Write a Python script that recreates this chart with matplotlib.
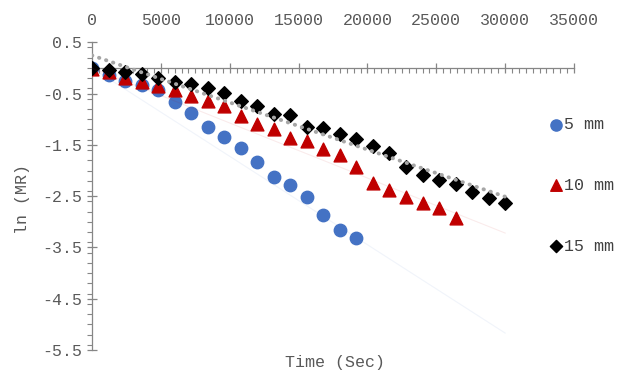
import numpy as np
import matplotlib
matplotlib.use("Agg")
import matplotlib.pyplot as plt
from matplotlib.ticker import MultipleLocator

# time (s), ln(MR)
t5 = [0, 1200, 2400, 3600, 4800, 6000, 7200, 8400, 9600, 10800, 12000,
      13200, 14400, 15600, 16800, 18000, 19200]
mr5 = [0.0, -0.14, -0.25, -0.33, -0.43, -0.66, -0.88, -1.16, -1.35, -1.56,
       -1.84, -2.12, -2.29, -2.51, -2.87, -3.16, -3.31]

t10 = [0, 1200, 2400, 3600, 4800, 6000, 7200, 8400, 9600, 10800, 12000,
       13200, 14400, 15600, 16800, 18000, 19200, 20400, 21600, 22800, 24000,
       25200, 26400]
mr10 = [-0.03, -0.08, -0.19, -0.27, -0.35, -0.43, -0.54, -0.65, -0.74, -0.93,
        -1.09, -1.19, -1.36, -1.42, -1.58, -1.70, -1.93, -2.24, -2.38, -2.51,
        -2.63, -2.73, -2.92]

t15 = [0, 1200, 2400, 3600, 4800, 6000, 7200, 8400, 9600, 10800, 12000,
       13200, 14400, 15600, 16800, 18000, 19200, 20400, 21600, 22800, 24000,
       25200, 26400, 27600, 28800, 30000]
mr15 = [0.0, -0.04, -0.08, -0.12, -0.20, -0.27, -0.32, -0.40, -0.49, -0.65,
        -0.74, -0.90, -0.92, -1.15, -1.17, -1.29, -1.38, -1.52, -1.66, -1.93,
        -2.09, -2.18, -2.26, -2.42, -2.53, -2.63]

# trend lines (end points)
trend_t = [0, 30000]
trend5 = [0.0, -5.17]
trend10 = [0.0, -3.22]
trend15 = [0.245, -2.51]

labels = ["5 mm", "10 mm", "15 mm"]

plt.rcParams["font.family"] = ["Liberation Mono", "DejaVu Sans"]
grey = "#595959"
axis_c = "#868686"

fig = plt.figure(figsize=(6.2, 3.72), dpi=100)
ax = fig.add_axes([92 / 620, 22 / 372, 482 / 620, 307.7 / 372])

ax.scatter(t5, mr5, s=80, marker="o", color="#4472C4", label=labels[0], zorder=3)
ax.scatter(t10, mr10, s=85, marker="^", color="#C00000", label=labels[1], zorder=3)
ax.scatter(t15, mr15, s=48, marker="D", color="black", label=labels[2], zorder=3)

ax.plot(trend_t, trend5, color="#4472C4", lw=0.8, alpha=0.08, zorder=4)
ax.plot(trend_t, trend10, color="#C00000", lw=0.8, alpha=0.08, zorder=4)
ax.plot(trend_t, trend15, color="#A6A6A6", lw=2.8, ls=(0, (0.1, 1.8)),
        dash_capstyle="round", zorder=4)

ax.set_xlim(0, 35000)
ax.set_ylim(-5.5, 0.5)
ax.xaxis.set_major_locator(MultipleLocator(5000))
ax.xaxis.set_minor_locator(MultipleLocator(500))
ax.yaxis.set_minor_locator(MultipleLocator(0.2))
yt = np.arange(0.5, -5.6, -1.0)
ax.set_yticks(yt)
ax.set_yticklabels([f"{v:.1f}" for v in yt])

for s in ["top", "right"]:
    ax.spines[s].set_visible(False)
ax.spines["bottom"].set_position(("data", 0))
for s in ["left", "bottom"]:
    ax.spines[s].set_color(axis_c)
    ax.spines[s].set_linewidth(0.9)

ax.tick_params(axis="x", which="both", labelbottom=False, labeltop=True,
               top=False, colors=axis_c, labelcolor=grey, labelsize=12, pad=7)
ax.tick_params(axis="x", which="major", direction="inout", length=7, width=0.9)
ax.tick_params(axis="x", which="minor", direction="out", length=3.5, width=0.8)
ax.tick_params(axis="y", which="both", colors=axis_c, labelcolor=grey, labelsize=12)
ax.tick_params(axis="y", which="major", direction="inout", length=7, width=0.9)
ax.tick_params(axis="y", which="minor", direction="out", length=3.5, width=0.8)

ax.set_xlabel("Time (Sec)", fontsize=12, color=grey, va="center")
ax.xaxis.set_label_coords(0.504, -0.042)
ax.set_ylabel("ln (MR)", fontsize=12, color=grey, va="center")
ax.yaxis.set_label_coords(-0.145, 0.49)

ax.legend(loc="upper left", bbox_to_anchor=(549 / 620, 1 - 117 / 372),
          bbox_transform=fig.transFigure, frameon=False, fontsize=12,
          labelspacing=2.75, handlelength=0.8, handletextpad=0.1,
          borderaxespad=0, borderpad=0, labelcolor="#404040",
          markerscale=0.9)

fig.savefig("out.png", dpi=100)
